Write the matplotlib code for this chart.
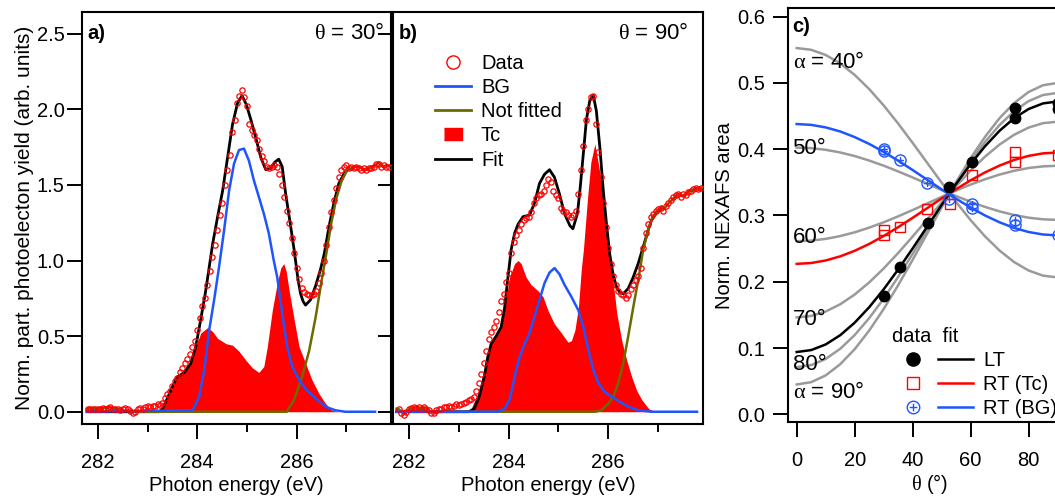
import numpy as np
import matplotlib
matplotlib.use('Agg')
import matplotlib.pyplot as plt
from matplotlib.lines import Line2D
from matplotlib.path import Path
from matplotlib.ticker import MultipleLocator, FormatStrFormatter
from matplotlib.legend_handler import HandlerTuple

plt.rcParams['font.family'] = ['Liberation Sans', 'DejaVu Sans']
plt.rcParams['mathtext.fontset'] = 'custom'
plt.rcParams['mathtext.it'] = 'Liberation Serif'
plt.rcParams['mathtext.rm'] = 'Liberation Serif'

RED = '#ff0000'
BLUE = '#1f55ff'
OLIVE = '#6b6b00'
GRAY = '#9a9a9a'

# ---------------- panel a / b : measured data (photon energy grid) ----------------
E_DATA = np.arange(281.80, 287.851, 0.05)

A_DATA = [0.02, 0.015, 0.02, 0.02, 0.015, 0.02, 0.025, 0.02, 0.025, 0.03,
          0.02, 0.015, 0.02, 0.01, 0.015, 0.025, 0.02, 0.005, -0.01, 0.0,
          0.02, 0.025, 0.02, 0.03, 0.035, 0.03, 0.04, 0.035, 0.05, 0.045,
          0.06, 0.09, 0.12, 0.14, 0.17, 0.20, 0.22, 0.26, 0.29, 0.32,
          0.35, 0.38, 0.43, 0.47, 0.54, 0.62, 0.70, 0.75, 0.84, 0.93,
          1.02, 1.10, 1.20, 1.30, 1.38, 1.50, 1.60, 1.70, 1.85, 1.93,
          2.04, 2.09, 2.13, 2.08, 2.02, 1.90, 1.86, 1.83, 1.80, 1.74,
          1.69, 1.66, 1.62, 1.61, 1.62, 1.63, 1.62, 1.57, 1.50, 1.42,
          1.33, 1.25, 1.15, 1.05, 0.95, 0.88, 0.82, 0.79, 0.78, 0.77,
          0.77, 0.78, 0.80, 0.85, 0.92, 1.00, 1.10, 1.22, 1.32, 1.40,
          1.48, 1.55, 1.60, 1.62, 1.63, 1.61, 1.62, 1.61, 1.62, 1.61,
          1.60, 1.61, 1.60, 1.61, 1.61, 1.62, 1.64, 1.64, 1.62, 1.63,
          1.62, 1.62]

B_DATA = [0.015, -0.01, -0.02, 0.0, 0.02, 0.025, 0.03, 0.025, 0.03, 0.02,
          0.03, 0.02, 0.01, -0.005, -0.01, 0.01, 0.02, 0.02, 0.03, 0.03,
          0.035, 0.03, 0.04, 0.05, 0.045, 0.05, 0.06, 0.065, 0.08, 0.085,
          0.10, 0.14, 0.19, 0.25, 0.32, 0.40, 0.48, 0.53, 0.56, 0.60,
          0.66, 0.73, 0.78, 0.86, 0.92, 1.05, 1.12, 1.17, 1.20, 1.24,
          1.27, 1.28, 1.29, 1.32, 1.38, 1.41, 1.43, 1.44, 1.46, 1.50,
          1.54, 1.52, 1.46, 1.43, 1.41, 1.35, 1.33, 1.32, 1.30, 1.29,
          1.30, 1.33, 1.44, 1.60, 1.76, 1.93, 2.00, 2.08, 2.09, 1.90,
          1.72, 1.55, 1.38, 1.22, 1.08, 0.98, 0.90, 0.84, 0.80, 0.78,
          0.77, 0.75, 0.77, 0.81, 0.84, 0.87, 0.90, 0.95, 1.08, 1.18,
          1.24, 1.29, 1.31, 1.33, 1.34, 1.35, 1.33, 1.36, 1.38, 1.40,
          1.42, 1.43, 1.44, 1.42, 1.44, 1.43, 1.45, 1.46, 1.47, 1.48,
          1.47, 1.48]

# ---------------- panel a : fit components ----------------
A_FIT_E = [281.78, 283.24, 283.30, 283.40, 283.50, 283.60, 283.74, 283.87, 283.97, 284.07,
           284.16, 284.22, 284.31, 284.41, 284.51, 284.61, 284.71, 284.81, 284.90, 284.99,
           285.08, 285.18, 285.28, 285.38, 285.48, 285.56, 285.64, 285.71, 285.78, 285.86,
           285.95, 286.03, 286.08, 286.13, 286.18, 286.28, 286.38, 286.48, 286.56, 286.65,
           286.75, 286.85, 286.95, 287.05]
A_FIT_V = [0.0, 0.0, 0.02, 0.09, 0.165, 0.23, 0.26, 0.32, 0.43, 0.61,
           0.78, 0.91, 1.11, 1.29, 1.46, 1.68, 1.90, 2.04, 2.09, 2.03,
           1.93, 1.81, 1.68, 1.60, 1.61, 1.65, 1.67, 1.62, 1.44, 1.27,
           1.07, 0.87, 0.78, 0.73, 0.705, 0.74, 0.83, 0.94, 1.05, 1.22,
           1.38, 1.51, 1.57, 1.61]

A_TC_E = [283.28, 283.44, 283.57, 283.71, 283.84, 283.97, 284.07, 284.21, 284.31, 284.41,
          284.58, 284.71, 284.84, 284.98, 285.11, 285.24, 285.34, 285.41, 285.51, 285.61,
          285.68, 285.74, 285.79, 285.85, 285.95, 286.05, 286.18, 286.31, 286.45, 286.58,
          286.71, 286.85]
A_TC_V = [0.0, 0.155, 0.22, 0.265, 0.31, 0.43, 0.52, 0.557, 0.53, 0.485,
          0.45, 0.44, 0.40, 0.34, 0.29, 0.26, 0.30, 0.43, 0.67, 0.85,
          0.95, 0.98, 0.93, 0.80, 0.61, 0.43, 0.32, 0.21, 0.12, 0.055,
          0.01, 0.0]

A_BG_E = [281.78, 283.91, 284.04, 284.14, 284.24, 284.34, 284.44, 284.54, 284.64, 284.74,
          284.84, 284.94, 285.04, 285.14, 285.24, 285.34, 285.44, 285.54, 285.61, 285.71,
          285.81, 285.91, 286.05, 286.21, 286.38, 286.58, 286.78, 286.98, 287.58]
A_BG_V = [0.0, 0.01, 0.10, 0.275, 0.54, 0.74, 0.96, 1.20, 1.46, 1.64,
          1.73, 1.74, 1.66, 1.53, 1.42, 1.31, 1.18, 1.00, 0.89, 0.65,
          0.43, 0.30, 0.21, 0.14, 0.09, 0.033, 0.01, 0.0, 0.0]

A_NF_E = [281.78, 281.85, 281.92, 282.00, 282.10, 282.20, 282.25, 282.32, 282.40, 282.50,
          282.60, 282.70, 285.80, 285.95, 286.10, 286.25, 286.38, 286.50, 286.60, 286.70,
          286.80, 286.90, 287.02, 287.12, 287.18, 287.25, 287.31, 287.38, 287.45, 287.51,
          287.58, 287.65, 287.70, 287.75, 287.82, 287.87]
A_NF_V = [0.02, 0.015, 0.02, 0.015, 0.025, 0.025, 0.03, 0.02, 0.015, 0.01,
          0.005, 0.0, 0.0, 0.08, 0.22, 0.40, 0.62, 0.86, 1.05, 1.25,
          1.41, 1.52, 1.60, 1.61, 1.62, 1.62, 1.61, 1.60, 1.61, 1.61,
          1.63, 1.65, 1.63, 1.62, 1.63, 1.625]

# ---------------- panel b : fit components ----------------
B_FIT_E = [281.75, 283.20, 283.31, 283.41, 283.51, 283.58, 283.65, 283.75, 283.85, 283.92,
           283.98, 284.05, 284.12, 284.19, 284.29, 284.42, 284.52, 284.62, 284.72, 284.82,
           284.92, 285.02, 285.12, 285.23, 285.29, 285.38, 285.43, 285.50, 285.56, 285.63,
           285.70, 285.76, 285.83, 285.90, 285.97, 286.03, 286.10, 286.17, 286.23, 286.30,
           286.40, 286.50, 286.60, 286.70, 286.80, 286.87, 286.97, 287.07]
B_FIT_V = [0.0, 0.0, 0.02, 0.10, 0.23, 0.36, 0.45, 0.50, 0.56, 0.69,
           0.87, 1.07, 1.18, 1.24, 1.29, 1.30, 1.38, 1.51, 1.57, 1.60,
           1.55, 1.44, 1.31, 1.23, 1.21, 1.31, 1.46, 1.71, 1.93, 2.06,
           2.09, 1.99, 1.75, 1.46, 1.22, 1.04, 0.90, 0.82, 0.79, 0.78,
           0.815, 0.89, 0.98, 1.09, 1.20, 1.27, 1.32, 1.35]

B_TC_E = [283.22, 283.38, 283.51, 283.61, 283.71, 283.81, 283.92, 284.02, 284.12, 284.19,
          284.25, 284.35, 284.45, 284.59, 284.69, 284.79, 284.92, 285.06, 285.19, 285.26,
          285.33, 285.40, 285.46, 285.50, 285.58, 285.65, 285.73, 285.80, 285.86, 285.92,
          285.97, 286.03, 286.07, 286.17, 286.27, 286.37, 286.47, 286.57, 286.67, 286.81,
          286.94]
B_TC_V = [0.0, 0.12, 0.275, 0.43, 0.50, 0.54, 0.69, 0.89, 0.98, 1.00,
          0.98, 0.89, 0.84, 0.80, 0.76, 0.67, 0.58, 0.52, 0.46, 0.47,
          0.54, 0.69, 0.95, 1.07, 1.40, 1.65, 1.77, 1.64, 1.52, 1.40,
          1.22, 1.07, 0.94, 0.65, 0.47, 0.34, 0.23, 0.14, 0.08, 0.02,
          0.0]

B_BG_E = [281.75, 283.78, 283.92, 284.02, 284.08, 284.15, 284.22, 284.32, 284.42, 284.52,
          284.62, 284.72, 284.82, 284.92, 285.02, 285.12, 285.26, 285.40, 285.50, 285.60,
          285.70, 285.80, 285.93, 286.07, 286.23, 286.40, 286.60, 286.87, 287.78]
B_BG_V = [0.0, 0.0, 0.02, 0.08, 0.165, 0.275, 0.36, 0.45, 0.52, 0.63,
          0.74, 0.85, 0.92, 0.95, 0.91, 0.84, 0.76, 0.67, 0.56, 0.41,
          0.275, 0.19, 0.13, 0.10, 0.066, 0.033, 0.01, 0.0, 0.0]

B_NF_E = [281.75, 281.80, 281.85, 281.90, 281.95, 282.03, 282.10, 282.17, 282.24, 282.30,
          282.37, 282.44, 282.54, 282.64, 282.75, 285.73, 285.86, 286.00, 286.10, 286.20,
          286.30, 286.40, 286.50, 286.60, 286.70, 286.80, 286.87, 286.97, 287.07, 287.12,
          287.21, 287.28, 287.34, 287.41, 287.48, 287.54, 287.61, 287.68, 287.75, 287.82,
          287.88]
B_NF_V = [0.02, 0.016, 0.0, -0.015, 0.0, 0.02, 0.025, 0.03, 0.02, 0.03,
          0.015, 0.0, -0.01, 0.005, 0.0, 0.0, 0.01, 0.055, 0.10, 0.19,
          0.32, 0.50, 0.69, 0.87, 1.07, 1.20, 1.27, 1.32, 1.35, 1.34,
          1.38, 1.40, 1.42, 1.44, 1.43, 1.43, 1.46, 1.46, 1.48, 1.47,
          1.48]

# ---------------- panel c ----------------
THETA_CURVE = [0, 5, 10, 15, 20, 25, 30, 35, 40, 45, 50, 55, 60, 65, 70, 75, 80, 85, 90, 95]
ALPHA_40 = [0.5526, 0.5500, 0.5422, 0.5294, 0.5121, 0.4908, 0.4661, 0.4388, 0.4096, 0.3796,
            0.3496, 0.3204, 0.2931, 0.2684, 0.2471, 0.2298, 0.2170, 0.2092, 0.2066, 0.2092]
ALPHA_50 = [0.4024, 0.4016, 0.3991, 0.3951, 0.3897, 0.3829, 0.3752, 0.3665, 0.3574, 0.3479,
            0.3384, 0.3293, 0.3207, 0.3129, 0.3062, 0.3007, 0.2967, 0.2942, 0.2934, 0.2942]
ALPHA_60 = [0.2612, 0.2621, 0.2647, 0.2689, 0.2746, 0.2816, 0.2897, 0.2987, 0.3082, 0.3181,
            0.3280, 0.3376, 0.3466, 0.3547, 0.3617, 0.3674, 0.3716, 0.3741, 0.3750, 0.3741]
ALPHA_70 = [0.1462, 0.1484, 0.1551, 0.1660, 0.1807, 0.1989, 0.2200, 0.2433, 0.2682, 0.2938,
            0.3195, 0.3444, 0.3677, 0.3888, 0.4070, 0.4217, 0.4326, 0.4393, 0.4415, 0.4393]
ALPHA_80 = [0.0711, 0.0742, 0.0836, 0.0988, 0.1195, 0.1450, 0.1745, 0.2072, 0.2421, 0.2780,
            0.3139, 0.3488, 0.3815, 0.4110, 0.4365, 0.4572, 0.4725, 0.4818, 0.4849, 0.4818]
ALPHA_90 = [0.0450, 0.0485, 0.0587, 0.0755, 0.0982, 0.1263, 0.1588, 0.1947, 0.2330, 0.2725,
            0.3120, 0.3503, 0.3863, 0.4187, 0.4468, 0.4695, 0.4863, 0.4965, 0.5000, 0.4965]
FIT_LT = [0.0940, 0.0969, 0.1054, 0.1193, 0.1382, 0.1615, 0.1885, 0.2184, 0.2502, 0.2830,
          0.3158, 0.3476, 0.3775, 0.4045, 0.4278, 0.4467, 0.4606, 0.4691, 0.4720, 0.4691]
FIT_TC = [0.2270, 0.2283, 0.2321, 0.2383, 0.2467, 0.2570, 0.2690, 0.2823, 0.2964, 0.3110,
          0.3256, 0.3397, 0.3530, 0.3650, 0.3753, 0.3837, 0.3899, 0.3937, 0.3950, 0.3937]
FIT_BG = [0.4380, 0.4367, 0.4329, 0.4268, 0.4183, 0.4080, 0.3960, 0.3827, 0.3686, 0.3540,
          0.3394, 0.3253, 0.3120, 0.3000, 0.2897, 0.2813, 0.2751, 0.2713, 0.2700, 0.2713]

LT_THETA = [30, 35.5, 45.3, 52.6, 60.5, 75.3, 75.3, 90, 90]
LT_VAL = [0.178, 0.222, 0.288, 0.343, 0.380, 0.462, 0.447, 0.470, 0.460]
TC_THETA = [30, 30, 35.5, 45, 53, 60.5, 75.5, 75.5, 90]
TC_VAL = [0.270, 0.278, 0.283, 0.310, 0.317, 0.361, 0.396, 0.381, 0.391]
BG_THETA = [30, 30, 35.5, 45, 52.5, 60.5, 60.5, 75.3, 75.3, 90]
BG_VAL = [0.400, 0.397, 0.384, 0.349, 0.325, 0.317, 0.312, 0.293, 0.285, 0.270]

ALPHA_LABELS = [r'$\alpha$ = 40°', '50°', '60°', '70°', '80°', r'$\alpha$ = 90°']

# circled-plus marker
OPLUS = Path.make_compound_path(
    Path.unit_circle(),
    Path([(-0.62, 0), (0.62, 0), (0, -0.62), (0, 0.62)],
         [Path.MOVETO, Path.LINETO, Path.MOVETO, Path.LINETO]))

# ================= figure =================
W, H = 1055, 497
fig = plt.figure(figsize=(W / 100, H / 100), dpi=100)

def px_axes(l, r, t, b):
    return fig.add_axes([l / W, (H - b) / H, (r - l) / W, (b - t) / H])

axA = px_axes(82, 391, 12, 424)
axB = px_axes(393, 703, 12, 424)
axC = px_axes(788, 1072, 8.3, 422)

TICK_FS = 14.5
LAB_FS = 14.5
for ax in (axA, axB, axC):
    for s in ax.spines.values():
        s.set_linewidth(1.5)
    ax.tick_params(which='major', direction='out', length=10.5, width=1.4,
                   labelsize=TICK_FS, top=False, right=False)
    ax.tick_params(which='minor', direction='out', length=5.5, width=1.4,
                   top=False, right=False)

def spectrum(ax, data, fit_e, fit_v, tc_e, tc_v, bg_e, bg_v, nf_e, nf_v):
    ax.fill_between(tc_e, 0, tc_v, color=RED, lw=0, zorder=1)
    ax.plot(fit_e, fit_v, color='black', lw=2.0, zorder=2)
    ax.plot(nf_e, nf_v, color=OLIVE, lw=1.8, zorder=3)
    ax.plot(bg_e, bg_v, color=BLUE, lw=1.8, zorder=4)
    ax.plot(E_DATA, data, ls='none', marker='o', ms=3.8, mfc='none', mec=RED,
            mew=0.9, zorder=5)
    ax.set_xlim(281.68, 287.9)
    ax.set_ylim(-0.081, 2.643)
    ax.xaxis.set_major_locator(MultipleLocator(2))
    ax.xaxis.set_minor_locator(MultipleLocator(1))
    ax.yaxis.set_major_locator(MultipleLocator(0.5))
    ax.yaxis.set_major_formatter(FormatStrFormatter('%.1f'))
    ax.tick_params(axis='x', which='major', pad=10.5)
    ax.set_xlabel('Photon energy (eV)', fontsize=LAB_FS, labelpad=2.5)

spectrum(axA, A_DATA, A_FIT_E, A_FIT_V, A_TC_E, A_TC_V, A_BG_E, A_BG_V, A_NF_E, A_NF_V)
spectrum(axB, B_DATA, B_FIT_E, B_FIT_V, B_TC_E, B_TC_V, B_BG_E, B_BG_V, B_NF_E, B_NF_V)
axA.tick_params(axis='y', pad=2)
axB.tick_params(axis='y', labelleft=False)
axA.set_ylabel('Norm. part. photoelecton yield (arb. units)', fontsize=15, labelpad=2)

axA.text(0.019, 0.949, 'a)', transform=axA.transAxes, fontsize=14.5, fontweight='bold',
         va='center', ha='left')
axB.text(0.019, 0.949, 'b)', transform=axB.transAxes, fontsize=14.5, fontweight='bold',
         va='center', ha='left')
axA.text(0.977, 0.949, r'$\theta$ = 30°', transform=axA.transAxes, fontsize=16,
         va='center', ha='right')
axB.text(0.952, 0.949, r'$\theta$ = 90°', transform=axB.transAxes, fontsize=16,
         va='center', ha='right')

leg_handles = [
    Line2D([], [], ls='none', marker='o', ms=9.5, mfc='none', mec=RED, mew=1.0),
    Line2D([], [], color=BLUE, lw=2),
    Line2D([], [], color=OLIVE, lw=2),
    Line2D([], [], ls='none', marker=[(-1.4, -1), (1.4, -1), (1.4, 1), (-1.4, 1)],
           ms=13, mfc=RED, mec=RED),
    Line2D([], [], color='black', lw=2),
]
axB.legend(leg_handles, ['Data', 'BG', 'Not fitted', 'Tc', 'Fit'], loc='upper left',
           bbox_to_anchor=(0.135, 0.8986), frameon=False, borderpad=0, borderaxespad=0,
           handlelength=1.79, handletextpad=0.5, labelspacing=0.26, fontsize=14.5)

# panel c
for vals in (ALPHA_40, ALPHA_50, ALPHA_60, ALPHA_70, ALPHA_80, ALPHA_90):
    axC.plot(THETA_CURVE, vals, color=GRAY, lw=1.8, zorder=1)
axC.plot(THETA_CURVE, FIT_LT, color='black', lw=1.8, zorder=2)
axC.plot(THETA_CURVE, FIT_TC, color=RED, lw=1.8, zorder=2)
axC.plot(THETA_CURVE, FIT_BG, color=BLUE, lw=1.8, zorder=2)
axC.plot(LT_THETA, LT_VAL, ls='none', marker='o', ms=7.5, color='black', zorder=4)
axC.plot(TC_THETA, TC_VAL, ls='none', marker='s', ms=7.5, mfc='none', mec=RED, mew=1.0,
         zorder=4)
axC.plot(BG_THETA, BG_VAL, ls='none', marker=OPLUS, ms=8, mfc='none', mec=BLUE, mew=1.0,
         zorder=4)

axC.set_xlim(-3, 95)
axC.set_ylim(-0.0116, 0.6126)
axC.xaxis.set_major_locator(MultipleLocator(20))
axC.yaxis.set_major_locator(MultipleLocator(0.1))
axC.yaxis.set_major_formatter(FormatStrFormatter('%.1f'))
axC.tick_params(axis='y', pad=6)
axC.tick_params(axis='x', pad=10.5)
axC.set_ylabel('Norm. NEXAFS area', fontsize=LAB_FS, labelpad=2)
axC.set_xlabel(r'$\theta$ (°)', fontsize=LAB_FS, labelpad=1.5)

axC.text(0.016, 0.957, 'c)', transform=axC.transAxes, fontsize=14.5, fontweight='bold',
         va='center', ha='left')
for lab, yy in zip(ALPHA_LABELS, [0.8678, 0.6599, 0.4448, 0.2466, 0.1378, 0.0725]):
    axC.text(0.016, yy, lab, transform=axC.transAxes, fontsize=16, va='center', ha='left')

axC.text(0.3666, 0.2055, 'data  fit', transform=axC.transAxes, fontsize=14.5,
         va='center', ha='left')
c_handles = [
    (Line2D([], [], ls='none', marker='o', ms=9.5, color='black'),
     Line2D([], [], color='black', lw=1.8)),
    (Line2D([], [], ls='none', marker='s', ms=9, mfc='none', mec=RED, mew=1.0),
     Line2D([], [], color=RED, lw=1.8)),
    (Line2D([], [], ls='none', marker=OPLUS, ms=9, mfc='none', mec=BLUE, mew=1.0),
     Line2D([], [], color=BLUE, lw=1.8)),
]
axC.legend(c_handles, ['LT', 'RT (Tc)', 'RT (BG)'],
           handler_map={tuple: HandlerTuple(ndivide=None, pad=0.373)},
           loc='upper left', bbox_to_anchor=(0.379, 0.172), frameon=False,
           borderpad=0, borderaxespad=0, handlelength=3.85, handletextpad=0.5,
           labelspacing=0.26, fontsize=14.5)

fig.savefig('out.png', dpi=100)
